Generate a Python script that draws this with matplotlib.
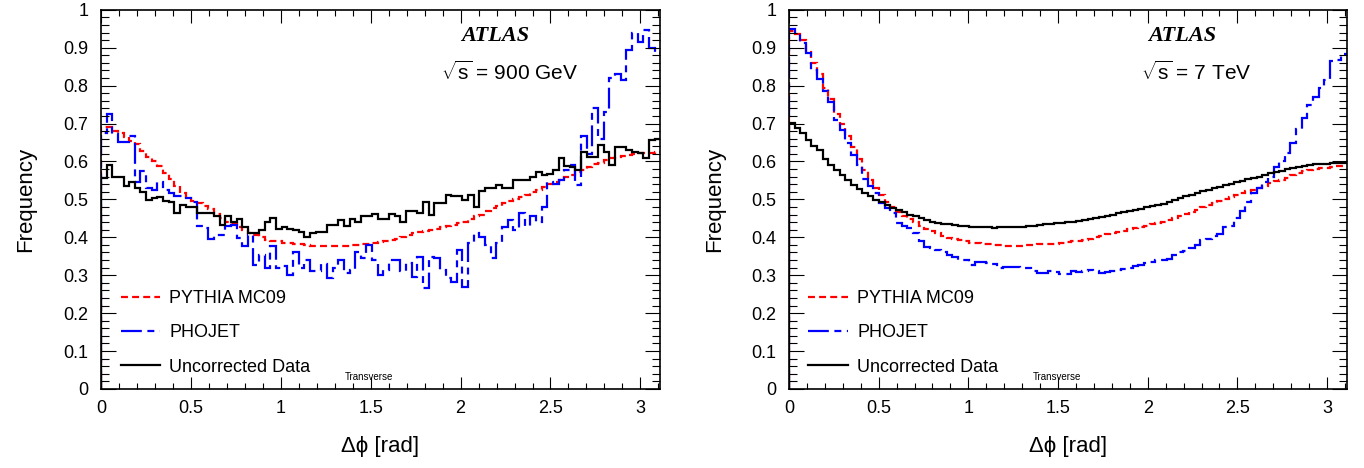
import numpy as np
import matplotlib
matplotlib.use('Agg')
import matplotlib.pyplot as plt
from matplotlib.ticker import MultipleLocator, FuncFormatter

plt.rcParams['font.family'] = ['Liberation Sans', 'DejaVu Sans']
plt.rcParams['mathtext.fontset'] = 'custom'
plt.rcParams['mathtext.rm'] = 'Liberation Sans'
plt.rcParams['mathtext.it'] = 'Liberation Sans:italic'
plt.rcParams['lines.scale_dashes'] = False

n_bins = 100
edges = np.linspace(0, np.pi, n_bins + 1)

# 900 GeV
data_900 = [0.557, 0.59, 0.56, 0.56, 0.535, 0.545, 0.53, 0.52, 0.499, 0.503,
            0.506, 0.497, 0.492, 0.464, 0.486, 0.479, 0.481, 0.463, 0.465, 0.463,
            0.455, 0.433, 0.455, 0.441, 0.447, 0.428, 0.41, 0.412, 0.419, 0.441,
            0.45, 0.421, 0.426, 0.421, 0.418, 0.415, 0.40, 0.412, 0.415, 0.415,
            0.433, 0.433, 0.446, 0.43, 0.447, 0.441, 0.455, 0.456, 0.461, 0.447,
            0.448, 0.461, 0.455, 0.441, 0.468, 0.468, 0.465, 0.494, 0.459, 0.49,
            0.49, 0.512, 0.508, 0.508, 0.499, 0.512, 0.481, 0.521, 0.53, 0.53,
            0.538, 0.53, 0.53, 0.551, 0.551, 0.551, 0.559, 0.573, 0.564, 0.568,
            0.578, 0.609, 0.588, 0.586, 0.578, 0.626, 0.613, 0.613, 0.644, 0.626,
            0.591, 0.637, 0.637, 0.63, 0.626, 0.622, 0.609, 0.657, 0.658, 0.658]
pythia_900 = [0.692, 0.69, 0.68, 0.675, 0.665, 0.655, 0.645, 0.628, 0.613, 0.60,
              0.588, 0.57, 0.553, 0.535, 0.518, 0.505, 0.495, 0.49, 0.482, 0.475,
              0.462, 0.45, 0.441, 0.435, 0.428, 0.42, 0.412, 0.407, 0.40, 0.394,
              0.391, 0.389, 0.386, 0.384, 0.382, 0.381, 0.38, 0.378, 0.377, 0.376,
              0.376, 0.377, 0.377, 0.378, 0.379, 0.38, 0.381, 0.383, 0.385, 0.388,
              0.39, 0.392, 0.395, 0.40, 0.405, 0.41, 0.414, 0.416, 0.419, 0.423,
              0.427, 0.429, 0.433, 0.437, 0.441, 0.447, 0.455, 0.46, 0.468, 0.476,
              0.482, 0.49, 0.495, 0.502, 0.507, 0.512, 0.52, 0.525, 0.533, 0.54,
              0.546, 0.552, 0.558, 0.565, 0.572, 0.578, 0.585, 0.592, 0.597, 0.603,
              0.608, 0.612, 0.615, 0.618, 0.62, 0.621, 0.622, 0.623, 0.624, 0.625]
phojet_900 = [0.675, 0.725, 0.672, 0.652, 0.652, 0.668, 0.545, 0.575, 0.53, 0.525,
              0.545, 0.525, 0.516, 0.51, 0.51, 0.503, 0.494, 0.43, 0.424, 0.395,
              0.406, 0.406, 0.43, 0.433, 0.397, 0.376, 0.406, 0.327, 0.353, 0.318,
              0.376, 0.318, 0.323, 0.30, 0.362, 0.318, 0.34, 0.31, 0.31, 0.33,
              0.292, 0.318, 0.34, 0.305, 0.314, 0.362, 0.345, 0.38, 0.34, 0.30,
              0.314, 0.34, 0.34, 0.31, 0.331, 0.296, 0.349, 0.265, 0.349, 0.345,
              0.314, 0.292, 0.283, 0.367, 0.27, 0.384, 0.411, 0.40, 0.38, 0.345,
              0.384, 0.428, 0.446, 0.42, 0.464, 0.43, 0.455, 0.441, 0.481, 0.547,
              0.54, 0.55, 0.578, 0.59, 0.538, 0.666, 0.62, 0.74, 0.66, 0.73,
              0.82, 0.83, 0.815, 0.895, 0.938, 0.916, 0.947, 0.899, 0.885, 0.885]

# 7 TeV
data_7 = [0.701, 0.688, 0.676, 0.657, 0.641, 0.63, 0.606, 0.591, 0.578, 0.565,
          0.551, 0.538, 0.527, 0.517, 0.508, 0.499, 0.492, 0.484, 0.477, 0.471,
          0.466, 0.46, 0.455, 0.45, 0.445, 0.441, 0.438, 0.436, 0.434, 0.433,
          0.431, 0.429, 0.428, 0.427, 0.426, 0.427, 0.425, 0.426, 0.426, 0.427,
          0.428, 0.428, 0.429, 0.43, 0.432, 0.434, 0.436, 0.437, 0.438, 0.44,
          0.441, 0.443, 0.446, 0.449, 0.451, 0.454, 0.457, 0.46, 0.463, 0.466,
          0.469, 0.472, 0.475, 0.479, 0.482, 0.486, 0.489, 0.494, 0.499, 0.503,
          0.508, 0.512, 0.517, 0.522, 0.526, 0.529, 0.533, 0.537, 0.541, 0.545,
          0.549, 0.553, 0.557, 0.56, 0.564, 0.57, 0.573, 0.575, 0.579, 0.582,
          0.585, 0.588, 0.591, 0.592, 0.593, 0.593, 0.596, 0.597, 0.595, 0.596]
pythia_7 = [0.943, 0.935, 0.92, 0.888, 0.86, 0.83, 0.795, 0.765, 0.725, 0.698,
            0.668, 0.638, 0.607, 0.578, 0.55, 0.53, 0.512, 0.494, 0.48, 0.467,
            0.456, 0.447, 0.439, 0.431, 0.423, 0.416, 0.41, 0.404, 0.399, 0.395,
            0.392, 0.389, 0.386, 0.384, 0.382, 0.381, 0.38, 0.379, 0.378, 0.377,
            0.377, 0.378, 0.379, 0.38, 0.381, 0.381, 0.382, 0.383, 0.385, 0.387,
            0.389, 0.391, 0.394, 0.396, 0.40, 0.404, 0.408, 0.411, 0.414, 0.417,
            0.421, 0.424, 0.427, 0.431, 0.434, 0.437, 0.441, 0.446, 0.451, 0.456,
            0.461, 0.467, 0.473, 0.479, 0.485, 0.49, 0.496, 0.50, 0.506, 0.511,
            0.516, 0.522, 0.526, 0.531, 0.536, 0.542, 0.549, 0.552, 0.557, 0.564,
            0.569, 0.575, 0.578, 0.58, 0.582, 0.584, 0.586, 0.587, 0.588, 0.588]
phojet_7 = [0.949, 0.936, 0.912, 0.887, 0.84, 0.817, 0.787, 0.758, 0.709, 0.683,
            0.65, 0.617, 0.591, 0.553, 0.534, 0.518, 0.49, 0.478, 0.465, 0.437,
            0.43, 0.425, 0.411, 0.39, 0.375, 0.371, 0.366, 0.362, 0.352, 0.349,
            0.34, 0.34, 0.327, 0.336, 0.335, 0.331, 0.33, 0.318, 0.322, 0.321,
            0.322, 0.318, 0.318, 0.312, 0.306, 0.306, 0.311, 0.309, 0.303, 0.303,
            0.311, 0.309, 0.31, 0.313, 0.31, 0.307, 0.309, 0.311, 0.313, 0.315,
            0.32, 0.324, 0.328, 0.331, 0.334, 0.34, 0.34, 0.342, 0.352, 0.36,
            0.365, 0.371, 0.38, 0.393, 0.396, 0.404, 0.408, 0.428, 0.43, 0.45,
            0.468, 0.494, 0.516, 0.529, 0.545, 0.56, 0.585, 0.60, 0.622, 0.648,
            0.685, 0.714, 0.75, 0.771, 0.793, 0.815, 0.864, 0.868, 0.884, 0.884]

labels = ['PYTHIA MC09', 'PHOJET', 'Uncorrected Data']
energies = [r'$\sqrt{\mathrm{s}}$ = 900 GeV', r'$\sqrt{\mathrm{s}}$ = 7 TeV']


def draw_panel(ax, data, pythia, phojet, energy):
    h_py = ax.stairs(pythia, edges, color='#ff0000', lw=1.6, linestyle=(0, (5, 3)))
    h_ph = ax.stairs(phojet, edges, color='#0000ff', lw=1.6, linestyle=(0, (15, 4, 5, 4)))
    h_d = ax.stairs(data, edges, color='black', lw=1.6)
    ax.set_xlim(0, 3.11)
    ax.set_ylim(0, 1)
    ax.xaxis.set_major_locator(MultipleLocator(0.5))
    ax.xaxis.set_minor_locator(MultipleLocator(0.1))
    ax.yaxis.set_major_locator(MultipleLocator(0.1))
    ax.yaxis.set_minor_locator(MultipleLocator(0.02))
    fmt = FuncFormatter(lambda v, p: '%g' % round(v, 2))
    ax.xaxis.set_major_formatter(fmt)
    ax.yaxis.set_major_formatter(fmt)
    ax.tick_params(which='both', direction='in', top=True, right=True, width=0.8, labelsize=13)
    ax.tick_params(axis='y', which='major', length=11, pad=9)
    ax.tick_params(axis='y', which='minor', length=6)
    ax.tick_params(axis='x', which='major', length=9, pad=8)
    ax.tick_params(axis='x', which='minor', length=4.5)
    for s in ax.spines.values():
        s.set_linewidth(1.2)
    ax.set_ylabel('Frequency', fontsize=16)
    ax.set_xlabel('Δϕ [rad]', fontsize=16)
    ax.yaxis.set_label_coords(-0.115, 0.5)
    ax.xaxis.set_label_coords(0.5, -0.125)
    ax.text(0.705, 0.93, 'ATLAS', transform=ax.transAxes, ha='center', va='center',
            fontsize=16, fontweight='bold', fontstyle='italic', family='Liberation Serif')
    ax.text(0.73, 0.834, energy, transform=ax.transAxes, ha='center', va='center', fontsize=15)
    ax.text(0.48, 0.032, 'Transverse', transform=ax.transAxes, ha='center', va='center', fontsize=7)
    ax.legend([h_py, h_ph, h_d], labels, loc='upper left', bbox_to_anchor=(0.035, 0.26),
              frameon=False, fontsize=13, handlelength=2.2, handletextpad=0.5,
              labelspacing=0.95, borderpad=0, borderaxespad=0)


fig = plt.figure(figsize=(13.64, 4.68), dpi=100)
ax1 = fig.add_axes([0.074, 0.169, 0.41, 0.81])
ax2 = fig.add_axes([0.5784, 0.169, 0.409, 0.81])
draw_panel(ax1, data_900, pythia_900, phojet_900, energies[0])
draw_panel(ax2, data_7, pythia_7, phojet_7, energies[1])

fig.savefig('out.png', dpi=100)
